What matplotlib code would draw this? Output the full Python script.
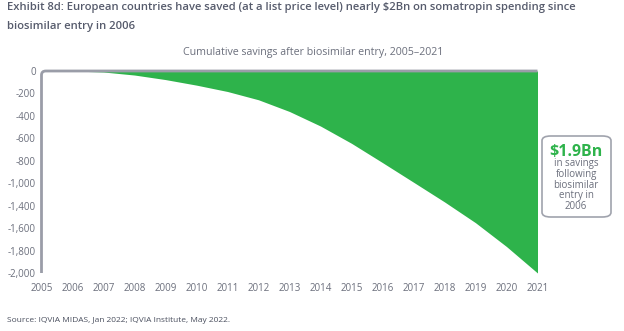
import numpy as np
import matplotlib.pyplot as plt
from matplotlib.path import Path
from matplotlib.patches import PathPatch, FancyBboxPatch

plt.rcParams['font.family'] = ['Open Sans', 'DejaVu Sans']

years = [2005, 2006, 2007, 2008, 2009, 2010, 2011, 2012, 2013,
         2014, 2015, 2016, 2017, 2018, 2019, 2020, 2021]
savings = [0, 0, -10, -40, -85, -140, -203, -285, -401,
           -545, -716, -907, -1101, -1296, -1502, -1738, -2000]

ytick_vals = list(np.linspace(0, -2000, 10))
ytick_labels = ['0', '-200', '-400', '-600', '-800', '-1,000',
                '-1,400', '-1,600', '-1,800', '-2,000']

green = '#2eb34b'
axis_grey = '#9a9da8'
text_grey = '#6b6f7c'
title_grey = '#565b6c'

fig = plt.figure(figsize=(6.24, 3.31), dpi=100)
ax = fig.add_axes([41.5 / 624, 58 / 331, 496 / 624, 202 / 331])

ax.fill_between(years, savings, 0, color=green, linewidth=0)
ax.set_xlim(2005, 2021)
ax.set_ylim(-2000, 0)

# axis frame: left spine + zero line, with a rounded corner at the origin
rx, ry = 0.14, 40
verts = [(2005, -2000), (2005, -ry), (2005, 0), (2005 + rx, 0), (2021, 0)]
codes = [Path.MOVETO, Path.LINETO, Path.CURVE3, Path.CURVE3, Path.LINETO]
ax.add_patch(PathPatch(Path(verts, codes), fill=False, edgecolor=axis_grey,
                       linewidth=2, clip_on=False, capstyle='butt'))

for s in ax.spines.values():
    s.set_visible(False)
ax.set_xticks(years)
ax.set_yticks(ytick_vals)
ax.set_yticklabels(ytick_labels)
ax.tick_params(length=0, labelsize=7, labelcolor=text_grey)
ax.tick_params(axis='y', pad=4)
ax.tick_params(axis='x', pad=7)

fig.text(7 / 624, 1 - 2 / 331,
         'Exhibit 8d: European countries have saved (at a list price level) nearly $2Bn on somatropin spending since\n'
         'biosimilar entry in 2006',
         ha='left', va='top', fontsize=8.15, fontweight='semibold', color=title_grey,
         linespacing=2.0)
fig.text(313 / 624, 1 - 52 / 331, 'Cumulative savings after biosimilar entry, 2005\u20132021',
         ha='center', va='center', fontsize=7.7, color=text_grey)
fig.text(7 / 624, 1 - 321 / 331, 'Source: IQVIA MIDAS, Jan 2022; IQVIA Institute, May 2022.',
         ha='left', va='center', fontsize=6.0, color='#4a4f5e')

# callout box
box = FancyBboxPatch((542 / 624, 1 - 217 / 331), 69 / 624, 81 / 331,
                     boxstyle='round,pad=0,rounding_size=0.014',
                     transform=fig.transFigure, facecolor='white',
                     edgecolor='#a0a3ad', linewidth=1.2)
fig.patches.append(box)
fig.text(576 / 624, 1 - 152 / 331, '$1.9Bn', ha='center', va='center',
         fontsize=11.5, fontweight='bold', color=green)
fig.text(576 / 624, 1 - 185 / 331, 'in savings\nfollowing\nbiosimilar\nentry in\n2006',
         ha='center', va='center', fontsize=7, color=text_grey, linespacing=0.95)

fig.savefig('out.png', dpi=100)
